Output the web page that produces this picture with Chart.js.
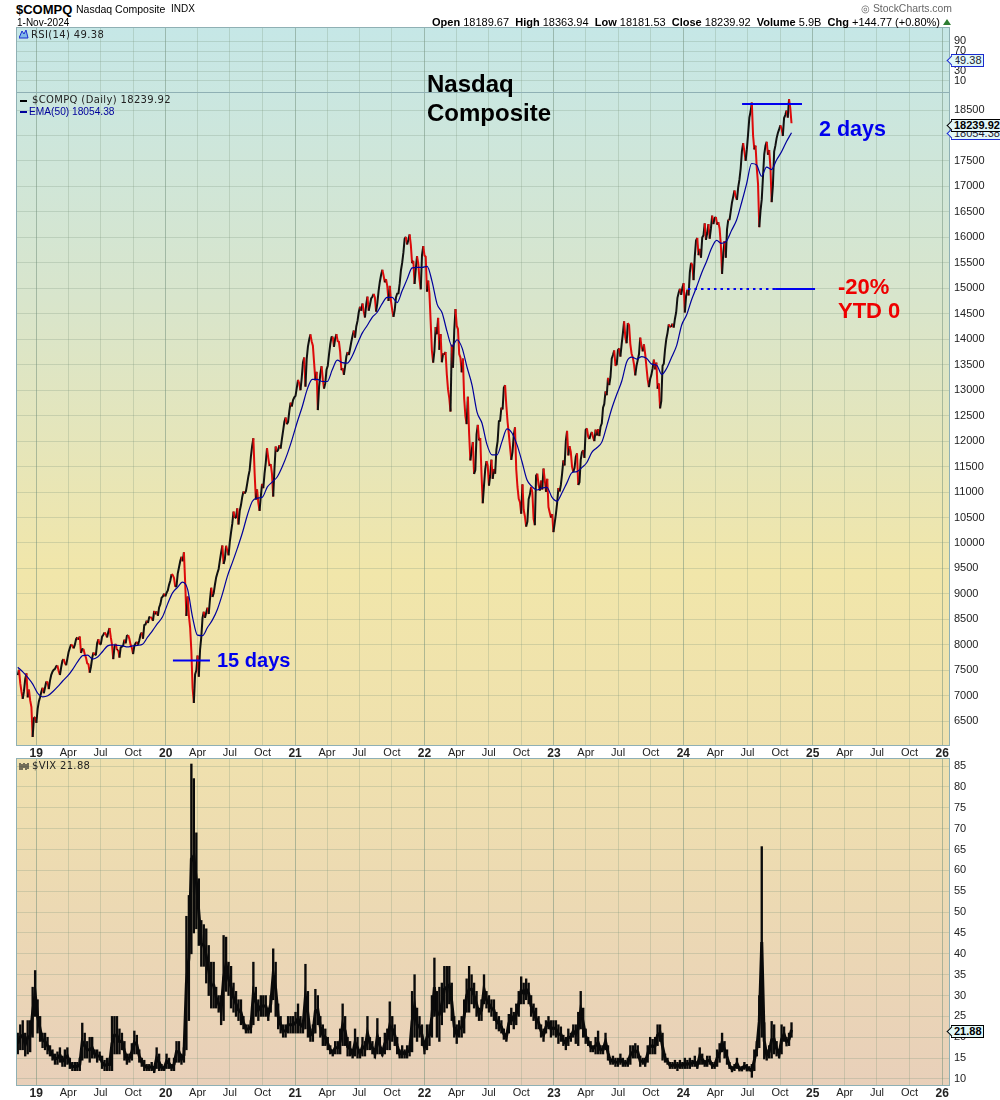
<!DOCTYPE html>
<html>
<head>
<meta charset="utf-8">
<title>$COMPQ Nasdaq Composite</title>
<script src="https://cdn.jsdelivr.net/npm/chart.js@4"></script>
<style>
    html, body { margin: 0; padding: 0; background: #fff; }
    #page { position: relative; width: 1000px; height: 1100px; overflow: hidden; font-family: "Liberation Sans", Arial, sans-serif; color: #000; }
    canvas { position: absolute; left: 0; }
    .t { position: absolute; white-space: nowrap; line-height: 1; }
    .leg { font-family: "DejaVu Sans", sans-serif; font-size: 10px; letter-spacing: 0.35px; color: #222; }
    .big { font-weight: bold; }
    .tag { position: absolute; left: 951px; height: 11px; line-height: 11px; padding: 0 1px 0 2px; font-size: 11px; background: #e2f8f8; border: 1px solid #1a2bd0; color: #223; white-space: nowrap; z-index: 3; }
    .tag::before { content: ""; position: absolute; left: -4px; top: 2px; width: 6px; height: 6px; background: #e2f8f8; border-left: 1px solid #1a2bd0; border-bottom: 1px solid #1a2bd0; transform: rotate(45deg); }
    .tag.dark { border-color: #000; color: #000; font-weight: bold; }
    .tag.dark::before { border-color: #000; }
    .dash { position: absolute; left: 20px; width: 7px; height: 2px; }
    svg { position: absolute; }
</style>
</head>
<body>
<div id="page">
    <canvas id="rsi-chart" width="1000" height="68" style="top:26px"></canvas>
    <canvas id="price-chart" width="1000" height="670" style="top:90px"></canvas>
    <canvas id="vix-chart" width="1000" height="344" style="top:756px"></canvas>

    <div class="t" style="left:16px;top:3px;font-size:13px;font-weight:bold;">$COMPQ</div>
    <div class="t" style="left:76px;top:4px;font-size:10.5px;">Nasdaq Composite</div>
    <div class="t" style="left:171px;top:4px;font-size:10px;">INDX</div>
    <div class="t" style="left:17px;top:18px;font-size:10px;">1-Nov-2024</div>
    <div class="t" style="left:432px;top:17px;font-size:11px;">
        <b>Open</b> 18189.67 &nbsp;<b>High</b> 18363.94 &nbsp;<b>Low</b> 18181.53 &nbsp;<b>Close</b> 18239.92 &nbsp;<b>Volume</b> 5.9B &nbsp;<b>Chg</b> +144.77 (+0.80%)
    </div>
    <svg style="left:943px;top:19px" width="8" height="6"><polygon points="0,6 8,6 4,0" fill="#2e7d32"/></svg>
    <div class="t" style="left:861px;top:4px;font-size:10.4px;color:#666;">&#9678; StockCharts.com</div>

    <svg style="left:19px;top:29px;z-index:2" width="10" height="10"><polygon points="0,9 3,2 5,5 7,1 9,9" fill="#7fb8e8" stroke="#1a2bd0" stroke-width="1"/></svg>
    <div class="t leg" style="left:31px;top:30px;z-index:2;">RSI(14) 49.38</div>
    <div class="dash" style="top:100px;background:#000;z-index:2;"></div>
    <div class="t leg" style="left:32px;top:95px;z-index:2;">$COMPQ (Daily) 18239.92</div>
    <div class="dash" style="top:111px;background:#00009c;z-index:2;"></div>
    <div class="t" style="left:29px;top:107px;font-size:10.2px;color:#00009c;z-index:2;">EMA(50) 18054.38</div>
    <svg style="left:19px;top:762px;z-index:2" width="10" height="9"><path d="M1 1v7M3 2v6M5 1v5M7 2v6M9 1v6" stroke="#222" stroke-width="1.2"/></svg>
    <div class="t leg" style="left:32px;top:761px;z-index:2;">$VIX 21.88</div>

    <div class="t big" style="left:427px;top:72px;font-size:24px;z-index:2;">Nasdaq</div>
    <div class="t big" style="left:427px;top:101px;font-size:24px;z-index:2;">Composite</div>
    <div class="t big" style="left:819px;top:119px;font-size:21.5px;color:#0000ee;z-index:2;">2 days</div>
    <div class="t big" style="left:217px;top:650px;font-size:20px;color:#0000ee;z-index:2;">15 days</div>
    <div class="t big" style="left:838px;top:276px;font-size:22px;color:#ee0000;z-index:2;">-20%</div>
    <div class="t big" style="left:838px;top:300px;font-size:22px;color:#ee0000;z-index:2;">YTD 0</div>

    <div class="tag" style="top:54px;">49.38</div>
    <div class="tag" style="top:127px;">18054.38</div>
    <div class="tag dark" style="top:119px;">18239.92</div>
    <div class="tag dark" style="top:1025px;">21.88</div>
</div>

<script>
// --- Data ---
const firstDate = 2018.857;   // 9 Nov 2018
const lastDate = 2024.836;    // 1 Nov 2024
const xMin = 2018.851;
const xMax = 2026.053;

const tickDates = [
    2019, 2019.247, 2019.496, 2019.748, 2020, 2020.247, 2020.496, 2020.748,
    2021, 2021.247, 2021.496, 2021.748, 2022, 2022.247, 2022.496, 2022.748,
    2023, 2023.247, 2023.496, 2023.748, 2024, 2024.247, 2024.496, 2024.748,
    2025, 2025.247, 2025.496, 2025.748, 2026
];
const tickLabels = [
    '19', 'Apr', 'Jul', 'Oct', '20', 'Apr', 'Jul', 'Oct',
    '21', 'Apr', 'Jul', 'Oct', '22', 'Apr', 'Jul', 'Oct',
    '23', 'Apr', 'Jul', 'Oct', '24', 'Apr', 'Jul', 'Oct',
    '25', 'Apr', 'Jul', 'Oct', '26'
];

const rsiTicks = [90, 70, 50, 30, 10];
const priceTicks = [6500, 7000, 7500, 8000, 8500, 9000, 9500, 10000, 10500, 11000, 11500, 12000, 12500,
    13000, 13500, 14000, 14500, 15000, 15500, 16000, 16500, 17000, 17500, 18000, 18500];
const vixTicks = [10, 15, 20, 25, 30, 35, 40, 45, 50, 55, 60, 65, 70, 75, 80, 85];

// weekly readings, one per Friday
const closes = [
    // 2018
    7407, 7247, 6939, 7330, 6969, 6910, 6190, 6584,
    // 2019
    6739, 6971, 7157, 7164, 7263, 7298, 7472, 7527, 7595, 7408, 7688, 7643, 7729,
    7939, 7984, 7998, 8146, 8164, 7917, 7816, 7637, 7453, 7742, 7797, 8032, 8006,
    8162, 8244, 8146, 8330, 8004, 7959, 7896, 7751, 7963, 8103, 8176, 8118, 7940,
    7982, 8057, 8090, 8243, 8386, 8475, 8540, 8520, 8665, 8656, 8735, 8925, 9007,
    // 2020
    9020, 9178, 9388, 9314, 9150, 9520, 9731, 9817, 8567, 8575, 7875, 6860, 7502,
    7373, 8153, 8650, 8634, 8605, 9121, 9014, 9324, 9489, 9814, 9588, 9946, 9757,
    10207, 10617, 10503, 10363, 10745, 11010, 11019, 11311, 11695, 12056, 10853, 10793, 10913,
    11075, 11579, 11671, 11548, 10911, 11895, 11829, 11854, 12205, 12464, 12377, 12755, 12804,
    // 2021
    12888, 13201, 12998, 13543, 13070, 13856, 14095, 13874, 13192, 12609, 13319, 13215, 13138,
    13480, 13900, 14052, 14016, 13962, 13752, 13430, 13471, 13748, 13814, 14069, 14030, 14360,
    14639, 14701, 14427, 14836, 14672, 14835, 14822, 14714, 15129, 15363, 15115, 15043, 15047,
    14566, 14579, 14897, 15090, 15498, 15971, 15860, 16057, 15491, 15085, 15630, 15169, 15653, 15645,
    // 2022
    14935, 14893, 13768, 13770, 14098, 13791, 13548, 13694, 13313, 12843, 13893, 14169,
    14261, 13711, 13351, 12839, 12334, 12144, 11805, 11354, 12131, 12012, 11340, 11128, 11607,
    11127, 11635, 11452, 11834, 12390, 12657, 13047, 12705, 12141, 11630, 12112, 11448, 10867, 10575,
    10652, 10321, 10859, 11102, 10475, 11323, 11146, 11226, 11461, 11004, 10705, 10497, 10213,
    // 2023
    10569, 11079, 11140, 11621, 12006, 11718, 11787, 11394, 11689, 11138, 11630, 11823, 12221,
    12087, 12123, 12072, 12226, 12235, 12284, 12657, 12975, 13240, 13259, 13689, 13492, 13788,
    13660, 14113, 14032, 14316, 13909, 13644, 13290, 13590, 14031, 13761, 13708, 13211, 13219,
    13431, 13407, 13029, 12643, 13478, 13798, 14125, 14250, 14305, 14403, 14813, 14992, 15011,
    // 2024
    14524, 14972, 15311, 15455, 15628, 15990, 15775, 15996, 16274, 16085, 15973, 16428, 16379,
    16249, 16175, 15282, 15928, 16156, 16340, 16685, 16920, 16735, 17133, 17688, 17689, 17732,
    18352, 18647, 17726, 17357, 16200, 16745, 17631, 17877, 17713, 16691, 17683, 17948, 18119,
    18137, 18342, 18489, 18712, 18239.92
];

// a mid-week reading after each Friday above
const midweek = [
    // 2018
    7510, 7080, 7090, 7440, 7120, 6780, 6560, 6470,
    // 2019
    6890, 7080, 7050, 7280, 7130, 7410, 7510, 7580, 7480, 7560, 7720, 7600, 7860,
    8010, 7930, 8110, 8100, 7840, 7920, 7750, 7620, 7570, 7850, 7810, 8110, 8020,
    8200, 8210, 8250, 8150, 7720, 8020, 7900, 7950, 7990, 8030, 8190, 8000, 7820,
    8030, 8000, 8200, 8120, 8400, 8430, 8550, 8470, 8600, 8570, 8800, 8950, 8950,
    // 2020
    9070, 9260, 9370, 9140, 9400, 9640, 9640, 9220, 8950, 8340, 7150, 7420, 7790,
    7900, 8530, 8530, 8730, 8890, 8940, 9180, 9410, 9660, 9950, 9680, 9850, 10020,
    10380, 10490, 10680, 10630, 10900, 10970, 11160, 11430, 11900, 11380, 11050, 10630, 11160,
    11360, 11860, 11510, 11360, 11450, 11790, 11920, 12040, 12380, 12330, 12590, 12680, 12860,
    // 2021
    13040, 13130, 13240, 13640, 13610, 13990, 13960, 13530, 13360, 13070, 13470, 13030, 13400,
    13700, 14040, 13850, 14100, 13950, 13390, 13300, 13660, 13690, 13950, 14170, 14250, 14530,
    14560, 14550, 14680, 14560, 14800, 14890, 14540, 14950, 15260, 15250, 15180, 14750, 14750,
    14440, 14820, 14900, 15350, 15700, 16010, 15950, 15850, 15540, 15380, 15480, 14980, 15830, 15620,
    // 2022
    15150, 14340, 13540, 14240, 14420, 14100, 13720, 13750, 13010, 12580, 13440, 14590,
    14200, 13640, 13620, 12490, 12870, 11620, 11980, 11430, 12320, 12060, 10780, 11450, 11520,
    11320, 11260, 11360, 12000, 12400, 12620, 13100, 12380, 11880, 11790, 12270, 11100, 10800, 11150,
    10520, 10420, 10950, 10990, 10350, 11360, 11030, 11050, 11240, 11260, 10600, 10570, 10390,
    // 2023
    10790, 11010, 11360, 11520, 12200, 11900, 11500, 11470, 11760, 11190, 11780, 11670, 12250,
    12040, 12180, 12000, 12110, 12100, 12350, 12730, 12900, 13100, 13620, 13780, 13490, 13820,
    13900, 14350, 13920, 14280, 13720, 13500, 13480, 13710, 13870, 13900, 13460, 13060, 13300,
    13600, 13540, 13130, 12790, 13520, 14000, 14290, 14240, 14230, 14530, 14910, 14870, 15100,
    // 2024
    14850, 14860, 15500, 15160, 15940, 15650, 15600, 16040, 15950, 16260, 16170, 16260, 16400,
    16300, 15860, 15700, 15600, 16350, 16510, 16800, 16800, 16980, 17350, 17850, 17500, 18030,
    18470, 18000, 17800, 17050, 16520, 17190, 17800, 17620, 17380, 17020, 17800, 18050, 18200,
    17990, 18400, 18350, 18540
];

// EMA(50), read about every two weeks
const ema50 = [
    7560, 7470, 7360, 7230, 7050, 6980, 7000, 7080, 7180, 7290, 7390, 7520, 7670, 7790, 7800, 7720,
    7760, 7870, 7980, 8000, 7990, 7980, 7960, 7980, 7990, 8010, 8150, 8280, 8420, 8550, 8800, 9020,
    9130, 9230, 9100, 8550, 8190, 8180, 8340, 8490, 8700, 9000, 9350, 9620, 9900, 10200, 10550, 10820,
    10880, 10900, 11100, 11200, 11300, 11500, 11750, 12050, 12380, 12680, 13020, 13210, 13210, 13170,
    13170, 13400, 13590, 13540, 13530, 13670, 13900, 14120, 14270, 14430, 14530, 14700, 14820, 14820,
    14720, 14950, 15180, 15400, 15410, 15410, 15430, 15130, 14690, 14520, 14150, 13860, 13990, 13830,
    13450, 13100, 12570, 12350, 11930, 11730, 11730, 11990, 12240, 12160, 11930, 11600, 11240, 11110,
    11040, 11080, 11090, 10900, 10820, 10980, 11180, 11380, 11400, 11480, 11580, 11780, 11870, 11980,
    12300, 12640, 12920, 13180, 13560, 13650, 13610, 13660, 13620, 13510, 13490, 13310, 13430, 13650,
    13880, 14280, 14480, 14780, 15030, 15300, 15530, 15790, 15940, 15880, 15930, 16140, 16340, 16680,
    17050, 17450, 17420, 17200, 17380, 17330, 17520, 17680, 17880, 18054.38
];

// VIX weekly range, same Fridays as closes
const vixLows = [
    16, 17, 17, 15.5, 16, 16.5, 20, 25,
    21, 19, 17.5, 17, 16, 15.5, 14.5, 13.5, 13.5, 14, 13, 13, 13.5, 12.5, 12, 12, 12, 12, 14.5, 15,
    15, 14, 15, 15, 14, 14.5, 12.5, 12, 12, 12, 12, 16, 16, 16, 17, 14.5, 13.5, 14, 14.5, 16, 16, 14,
    13, 12, 12, 12, 12, 11.5, 12.5, 12, 12, 12,
    12.5, 12.5, 12, 12, 14, 14, 13.5, 14, 17, 24, 40, 45, 46, 42, 37, 37, 33, 30, 27, 27, 27, 26,
    23, 24, 31, 30, 27, 26, 25, 24, 23, 22, 21, 21, 21, 23, 25, 24, 25, 25, 25, 24, 26, 29, 25, 22,
    21, 20, 20, 21, 21, 21,
    21, 21, 21, 21, 22, 20, 19, 19, 21, 23, 20, 18, 18, 17, 16, 15.5, 16, 16, 16, 18, 18, 15.5, 15.5,
    15, 15.5, 15, 15, 15.5, 15.5, 17, 17, 16, 15, 16, 16, 15.5, 16, 17, 17, 19, 18, 16, 15, 15, 15,
    15, 15.5, 16.5, 20, 19, 20, 18, 16,
    17, 18, 20, 25, 20, 19, 23, 26, 27, 28, 24, 20, 18.5, 20, 20, 21, 26, 26, 28, 27, 25, 24, 24, 28,
    27, 26, 25, 24, 22, 21.5, 21, 19.5, 19, 21, 23, 22, 23, 25, 28, 28, 29, 28, 25, 24, 22, 22, 20,
    19, 21, 22, 20, 20.5,
    20, 18.5, 19, 18, 17, 18, 19, 20, 18.5, 18, 22, 20, 18.5, 18, 16.5, 16.5, 16, 16, 16, 16, 17,
    14.5, 13.5, 13.5, 13, 13, 13.5, 13, 13, 13, 13.5, 15, 15, 15, 13, 13.5, 13, 14, 16, 16, 16, 18,
    19, 14.5, 14, 13.5, 12.5, 12.5, 12.5, 12, 12.5, 12.5,
    12.5, 12.5, 12.5, 13, 13, 12.5, 13.5, 13.5, 13, 13, 13.5, 12.5, 12.5, 13, 14, 16.5, 15, 13.5,
    12.5, 11.7, 12, 12.5, 11.9, 11.9, 12.3, 11.9, 11.9, 10.4, 12, 15.5, 17.5, 20, 14.8, 14.5, 15,
    15, 16, 15.5, 15, 16, 19, 17.9, 18, 20
];
const vixHighs = [
    21, 23, 24, 21, 24, 24, 32, 36,
    29, 25, 21, 21, 20, 18, 17, 16, 16.5, 17.5, 15.5, 17, 17.5, 15, 14, 14, 14, 15, 23.4, 21,
    19, 20, 20, 17, 17, 16.5, 15.5, 14.5, 15, 15, 25, 25, 25, 22, 21, 19, 16, 16, 18.5, 21.5, 20.5, 17,
    15, 14.5, 13.5, 13.5, 14, 13, 17.5, 16, 13.5, 13,
    16, 15, 13.5, 15, 19, 19, 16, 17.5, 49, 54, 85.5, 82, 69, 58, 48, 47, 46, 42, 38, 38, 32, 30,
    30, 44.4, 44, 38, 37, 33, 31, 29, 29, 25, 23, 23, 24, 38, 32, 29, 30, 30, 30, 27, 30, 41.2, 38, 28,
    25, 23, 23, 25, 25, 25,
    26, 28, 25, 24, 37.5, 31, 22, 23, 31.5, 30, 25, 23, 22, 20, 18, 17, 19, 19, 22, 28, 25, 20, 19,
    17, 22, 20, 17, 20, 19, 25, 20, 19, 17, 24.5, 20, 17, 21, 22, 28.5, 25, 23, 20, 17, 18,
    17, 18, 18, 31, 35, 27, 25, 23, 19,
    23, 23, 30, 39, 31, 32, 33, 37, 37, 37, 33, 25, 23, 24, 25, 29, 34, 37, 35, 33, 31, 27, 29, 35,
    31, 30, 29, 29, 26, 25, 24, 22, 21, 25.5, 27, 26, 28, 31, 34.5, 33, 34, 33, 30, 28, 27, 25, 23,
    22, 24, 25, 24, 24,
    24, 23, 22.5, 20.5, 20, 22, 21, 23, 23, 26, 31, 27, 22, 20, 19, 18, 20, 21.5, 18, 18, 21,
    18, 15, 15.5, 15, 15, 16, 15, 14.5, 15, 18, 18, 18.5, 18, 15.5, 15, 15, 18, 20, 19.5, 20, 23,
    23, 21, 16, 15, 14, 14, 14.5, 14, 14.5, 14,
    15, 14.5, 15, 14.5, 15.5, 14, 17.5, 16, 14.5, 15.5, 15.5, 14, 14, 17, 18.5, 21, 19, 17,
    14, 13, 13.5, 15, 13, 13, 14, 13.5, 13, 13.5, 17, 19, 30, 65.7, 23.5, 17, 18,
    23.8, 23, 19, 17, 23, 22.5, 20, 21, 23.5
];

// hand drawn lines on the price panel
const topLineDates = [2024.454, 2024.917];
const topLineLevels = [18618, 18618];
const dayLineDates = [2020.056, 2020.342];
const dayLineLevels = [7693, 7693];
const dottedDates = [2024.036, 2024.709];
const dottedLevels = [14986, 14986];
const solidDates = [2024.709, 2025.018];
const solidLevels = [14986, 14986];

// --- Helpers ---
function spreadDates(values) {
    return values.map((v, i) => firstDate + i * (lastDate - firstDate) / (values.length - 1));
}

function toPoints(dates, values) {
    return values.map((v, i) => ({ x: dates[i], y: v }));
}

function handLine(dates, values, dash) {
    return {
        type: 'line',
        data: toPoints(dates, values),
        borderColor: '#0000ee',
        borderWidth: 2,
        borderDash: dash || [],
        pointRadius: 0,
        order: 0
    };
}

// background runs across all panels, measured on the whole page
const panelBackground = {
    id: 'panelBackground',
    beforeDraw(chart) {
        const { ctx, chartArea } = chart;
        const top = chart.canvas.offsetTop;
        const grad = ctx.createLinearGradient(0, -top, 0, 1100 - top);
        grad.addColorStop(0.02, 'rgb(197,231,231)');
        grad.addColorStop(0.27, 'rgb(216,229,204)');
        grad.addColorStop(0.52, 'rgb(241,230,170)');
        grad.addColorStop(0.70, 'rgb(239,224,174)');
        grad.addColorStop(1, 'rgb(232,207,186)');
        ctx.fillStyle = grad;
        ctx.fillRect(chartArea.left, chartArea.top, chartArea.width, chartArea.height);
    },
    afterDraw(chart) {
        const { ctx, chartArea } = chart;
        ctx.strokeStyle = '#8fb0b4';
        ctx.lineWidth = 1;
        ctx.strokeRect(chartArea.left - 0.5, chartArea.top - 0.5, chartArea.width + 1, chartArea.height + 1);
    }
};

function isYearTick(i) {
    return tickLabels[i] && tickLabels[i].length === 2;
}

function makePanel(id, yMin, yMax, yTicks, datasets, padTop, axisHeight, showX, showY) {
    return new Chart(document.getElementById(id), {
        data: { datasets },
        plugins: [panelBackground],
        options: {
            responsive: false,
            animation: false,
            events: [],
            layout: { padding: { left: 17, top: padTop, bottom: 0, right: 0 } },
            plugins: { legend: { display: false }, tooltip: { enabled: false } },
            scales: {
                x: {
                    type: 'linear',
                    min: xMin,
                    max: xMax,
                    offset: false,
                    afterBuildTicks(s) { s.ticks = tickDates.map(v => ({ value: v })); },
                    afterFit(s) { s.height = axisHeight; s.paddingLeft = 0; s.paddingRight = 0; },
                    grid: {
                        offset: false,
                        drawTicks: false,
                        color: c => isYearTick(c.index) ? 'rgba(110,140,120,0.5)' : 'rgba(120,145,120,0.26)',
                        lineWidth: 1
                    },
                    border: { display: false },
                    ticks: {
                        display: showX,
                        autoSkip: false,
                        maxRotation: 0,
                        padding: 1,
                        color: '#222',
                        font: c => ({
                            family: '"Liberation Sans", Arial, sans-serif',
                            size: isYearTick(c.index) ? 12 : 11,
                            weight: isYearTick(c.index) ? 'bold' : 'normal'
                        }),
                        callback: (v, i) => tickLabels[i]
                    }
                },
                y: {
                    type: 'linear',
                    position: 'right',
                    min: yMin,
                    max: yMax,
                    afterBuildTicks(s) { s.ticks = yTicks.map(v => ({ value: v })); },
                    afterFit(s) { s.width = 51; s.paddingTop = 0; s.paddingBottom = 0; },
                    grid: { drawTicks: false, color: 'rgba(120,145,125,0.26)', lineWidth: 1 },
                    border: { display: false },
                    ticks: {
                        display: showY,
                        autoSkip: false,
                        padding: 5,
                        crossAlign: 'near',
                        color: '#222',
                        font: { family: '"Liberation Sans", Arial, sans-serif', size: 11 },
                        callback: v => String(v)
                    }
                }
            }
        }
    });
}

// --- Panels ---
makePanel('rsi-chart', -14.2, 116.8, rsiTicks, [], 2, 1, false, true);

const priceReadings = closes.flatMap((c, i) => i < midweek.length ? [c, midweek[i]] : [c]);

makePanel('price-chart', 6034, 18834, priceTicks, [
    {
        type: 'line',
        data: toPoints(spreadDates(priceReadings), priceReadings),
        borderWidth: 2,
        pointRadius: 0,
        borderColor: '#111',
        segment: { borderColor: c => c.p1.parsed.y < c.p0.parsed.y ? '#dd0a0a' : '#111' },
        order: 2
    },
    {
        type: 'line',
        data: toPoints(spreadDates(ema50), ema50),
        borderWidth: 1.2,
        borderColor: '#00009c',
        pointRadius: 0,
        cubicInterpolationMode: 'monotone',
        order: 1
    },
    handLine(topLineDates, topLineLevels),
    handLine(dayLineDates, dayLineLevels),
    handLine(dottedDates, dottedLevels, [2.5, 4]),
    handLine(solidDates, solidLevels)
], 3, 15, true, true);

const vixDates = spreadDates(vixLows);
const vixCore = vixLows.map((low, i) => (low + vixHighs[i]) / 2);
makePanel('vix-chart', 8.56, 86.7, vixTicks, [
    {
        type: 'bar',
        data: vixLows.map((low, i) => ({ x: vixDates[i], y: [low, vixHighs[i]] })),
        backgroundColor: '#0a0a0a',
        barThickness: 1.7,
        grouped: false
    },
    {
        type: 'line',
        data: toPoints(vixDates, vixCore),
        borderColor: '#0a0a0a',
        borderWidth: 3,
        pointRadius: 0
    }
], 3, 15, true, true);
</script>
</body>
</html>
